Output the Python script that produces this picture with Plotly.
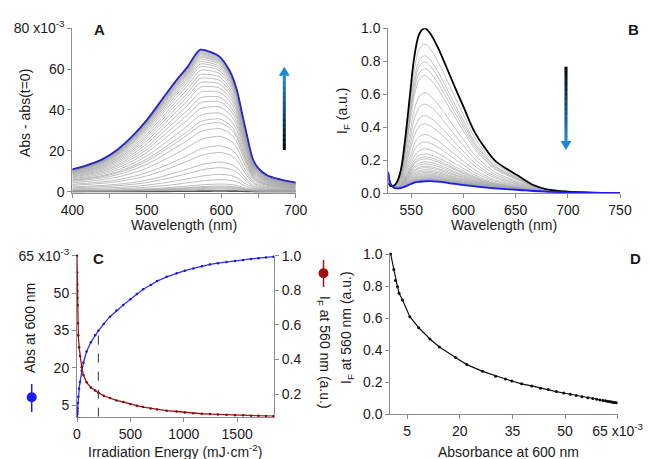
import plotly.graph_objects as go

# ---------------- data ----------------
# Panel C / D : kinetics
energy = [0, 1.3, 2, 3, 3.6, 5, 8, 12, 20, 28, 44, 60, 90, 130, 170, 200, 250, 309, 370, 433,
          500, 560, 620, 690, 750, 840, 933, 1010, 1090, 1170, 1245, 1320, 1400, 1480, 1556,
          1630, 1700, 1770, 1840]
abs600 = [0.3, 1.2, 1.67, 2.24, 2.7, 3.67, 5.76, 8.3, 11.5, 14.2, 18.8, 22, 26.5, 30.2, 33, 34.8,
          37.6, 40.5, 43, 45.2, 47.5, 49.6, 51.5, 53.2, 54.8, 56.5, 57.9, 59, 59.9, 60.8, 61.5,
          62, 62.5, 62.9, 63.3, 63.7, 64, 64.3, 64.6]
if560 = [1.0, 0.904, 0.834, 0.796, 0.755, 0.713, 0.609, 0.54, 0.47, 0.42, 0.355, 0.31, 0.268,
         0.238, 0.22, 0.208, 0.19, 0.177, 0.163, 0.154, 0.142, 0.133, 0.125, 0.117, 0.11, 0.104,
         0.099, 0.094, 0.089, 0.086, 0.084, 0.082, 0.08, 0.078, 0.077, 0.075, 0.074, 0.073, 0.072]
marker_energy = 200

# Panel A : absorption spectra
wl_A = [400, 420, 440, 460, 480, 500, 520, 540, 555, 565, 572, 580, 590, 598, 612, 621, 627,
        634, 643, 650, 661, 679, 700]
absA_final = [10.9, 13, 15.8, 20.4, 26.9, 35, 44.9, 54.6, 61.2, 66.9, 69.5, 69, 67.7, 66, 58.7,
              49.8, 40, 28.5, 15.5, 11.4, 8.2, 6.0, 4.4]
absA_early_shape = [0.16, 0.18, 0.2, 0.23, 0.28, 0.35, 0.46, 0.6, 0.72, 0.8, 0.86, 0.92, 0.97,
                    1.0, 0.95, 0.82, 0.64, 0.42, 0.2, 0.12, 0.08, 0.05, 0.04]

# Panel B : fluorescence spectra
wl_B = [528, 530, 533, 536, 540, 544, 549, 553, 558, 563, 568, 575, 582, 590, 600, 610, 620,
        630, 641, 654, 667, 680, 700, 725, 750]
ifB_start = [0.06, 0.045, 0.045, 0.065, 0.14, 0.32, 0.61, 0.83, 0.97, 1.0, 0.97, 0.89, 0.79, 0.67,
             0.525, 0.38, 0.28, 0.2, 0.15, 0.10, 0.05, 0.024, 0.01, 0.004, 0.0]
ifB_end = [0.13, 0.06, 0.035, 0.03, 0.032, 0.04, 0.055, 0.065, 0.07, 0.073, 0.074, 0.071, 0.066,
           0.058, 0.05, 0.043, 0.036, 0.03, 0.025, 0.02, 0.014, 0.01, 0.006, 0.003, 0.001]

# ---------------- helpers ----------------
W, H = 649, 459
def px(x):
    return x / W
def py(y):
    return 1 - y / H

FONT = "Liberation Sans, Arial, sans-serif"
AX = "#8c8c8c"
TXT = "#1a1a1a"

fig = go.Figure()

# ---- Panel A ----
a_end = abs600[-1]
a600 = absA_final[wl_A.index(598)]
for i, a in enumerate(abs600[:-1]):
    f = a / a_end
    ys = [f * (f * fv + (1 - f) * ev * a600) for fv, ev in zip(absA_final, absA_early_shape)]
    col = "#555555" if i == 0 else "#a0a0a0"
    wdt = 1.6 if i == 0 else 0.7
    fig.add_trace(go.Scatter(x=wl_A, y=ys, mode="lines", line=dict(color=col, width=wdt, shape="spline"),
                             xaxis="x", yaxis="y", hoverinfo="skip"))
fig.add_trace(go.Scatter(x=wl_A, y=absA_final, mode="lines",
                         line=dict(color="#2525c8", width=1.8, shape="spline"),
                         xaxis="x", yaxis="y"))

# ---- Panel B ----
i0, i1 = if560[0], if560[-1]
for v in if560[1:-1]:
    w = (v - i1) / (i0 - i1)
    ys = [e + w * (s - e) for s, e in zip(ifB_start, ifB_end)]
    fig.add_trace(go.Scatter(x=wl_B, y=ys, mode="lines", line=dict(color="#a8a8a8", width=0.7, shape="spline"),
                             xaxis="x2", yaxis="y2", hoverinfo="skip"))
fig.add_trace(go.Scatter(x=wl_B, y=ifB_start, mode="lines", line=dict(color="#000000", width=1.8, shape="spline"),
                         xaxis="x2", yaxis="y2"))
fig.add_trace(go.Scatter(x=wl_B, y=ifB_end, mode="lines", line=dict(color="#1a1aff", width=1.8, shape="spline"),
                         xaxis="x2", yaxis="y2"))

# ---- Panel C ----
k = energy.index(marker_energy)
fig.add_trace(go.Scatter(x=[energy[k], energy[k]], y=[0.3, abs600[k]], mode="lines",
                         line=dict(color="#333333", width=1, dash="dash"), xaxis="x3", yaxis="y3"))
fig.add_trace(go.Scatter(x=energy, y=abs600, mode="lines+markers",
                         line=dict(color="#3030ff", width=1.3),
                         marker=dict(size=2.5, color="#1a1acc"), cliponaxis=False,
                         xaxis="x3", yaxis="y3"))
fig.add_trace(go.Scatter(x=energy, y=if560, mode="lines+markers",
                         line=dict(color="#a01818", width=1.3),
                         marker=dict(size=2.5, color="#7a0c0c"), cliponaxis=False,
                         xaxis="x3", yaxis="y4"))

# ---- Panel D ----
fig.add_trace(go.Scatter(x=abs600, y=if560, mode="lines+markers",
                         line=dict(color="#111111", width=1.2),
                         marker=dict(size=3, color="#111111"), cliponaxis=False,
                         xaxis="x4", yaxis="y5"))

def axis(**kw):
    base = dict(showline=True, linecolor=AX, linewidth=1, ticks="outside", ticklen=4,
                tickcolor=AX, tickwidth=1, showgrid=False, zeroline=False, automargin=False,
                tickfont=dict(family=FONT, size=14, color=TXT), fixedrange=True)
    base.update(kw)
    return base

fig.update_layout(
    template="none",
    width=W, height=H, autosize=False, showlegend=False,
    margin=dict(l=0, r=0, t=0, b=0, pad=0),
    paper_bgcolor="white", plot_bgcolor="white",
    xaxis=axis(domain=[px(72.3), px(295.7)], range=[400, 700], anchor="y",
               tickvals=[400, 500, 600, 700],
               minor=dict(tickvals=[450, 550, 650], ticks="outside", ticklen=4, tickcolor=AX)),
    yaxis=axis(domain=[py(192.7), py(28.2)], range=[-0.5, 80], anchor="x",
               tickvals=[0, 20, 40, 60, 80],
               ticktext=["0", "20", "40", "60", "80 x10<sup>-3</sup>"]),
    xaxis2=axis(domain=[px(388.3), px(620)], range=[528, 750], anchor="y2",
                tickvals=[550, 600, 650, 700, 750]),
    yaxis2=axis(domain=[py(193.3), py(28.3)], range=[0, 1.0], anchor="x2",
                tickvals=[0, 0.2, 0.4, 0.6, 0.8, 1.0],
                ticktext=["0.0", "0.2", "0.4", "0.6", "0.8", "1.0"]),
    xaxis3=axis(domain=[px(77), px(274)], range=[0, 1845], anchor="y3",
                tickvals=[0, 500, 1000, 1500]),
    yaxis3=axis(domain=[py(416.7), py(255.7)], range=[0.3, 65], anchor="x3",
                tickvals=[5, 20, 35, 50, 65],
                ticktext=["5", "20", "35", "50", "65 x10<sup>-3</sup>"]),
    yaxis4=axis(overlaying="y3", side="right", range=[0.069, 1.0], anchor="x3",
                tickvals=[0.2, 0.4, 0.6, 0.8, 1.0],
                ticktext=["0.2", "0.4", "0.6", "0.8", "1.0"]),
    xaxis4=axis(domain=[px(390.3), px(617.7)], range=[0.2, 65], anchor="y5",
                tickvals=[5, 20, 35, 50, 65],
                ticktext=["5", "20", "35", "50", "65 x10<sup>-3</sup>"]),
    yaxis5=axis(domain=[py(414.3), py(254)], range=[0, 1.0], anchor="x4",
                tickvals=[0, 0.2, 0.4, 0.6, 0.8, 1.0],
                ticktext=["0.0", "0.2", "0.4", "0.6", "0.8", "1.0"]),
)

ann = []
def add_text(text, x, y, size=14, angle=0, bold=False):
    ann.append(dict(text=f"<b>{text}</b>" if bold else text, x=px(x), y=py(y), xref="paper", yref="paper",
                    showarrow=False, xanchor="center", yanchor="middle", textangle=angle,
                    font=dict(family=FONT, size=size, color=TXT)))

add_text("A", 99, 30, 15, bold=True)
add_text("B", 633, 30, 15, bold=True)
add_text("C", 98, 258, 15, bold=True)
add_text("D", 635, 258, 15, bold=True)
add_text("Wavelength (nm)", 184, 225)
add_text("Wavelength (nm)", 504, 225)
add_text("Abs - abs(t=0)", 25, 113, angle=-90)
add_text("I<sub>F</sub> (a.u.)", 343, 111, angle=-90)
add_text("Irradiation Energy (mJ·cm<sup>-2</sup>)", 175, 451)
add_text("Abs at 600 nm", 30, 328, angle=-90)
add_text("I<sub>F</sub> at 560 nm (a.u.)", 324, 352, angle=90)
add_text("I<sub>F</sub> at 560 nm (a.u.)", 347, 328, angle=-90)
add_text("Absorbance at 600 nm", 508, 452)
fig.update_layout(annotations=ann)

shapes = []
# legend glyphs for panel C
def glyph(cx, y0, y1, cy, color):
    shapes.append(dict(type="line", xref="paper", yref="paper", x0=px(cx), x1=px(cx), y0=py(y0), y1=py(y1),
                       line=dict(color=color, width=1.5)))
    r = 5
    shapes.append(dict(type="circle", xref="paper", yref="paper", x0=px(cx - r), x1=px(cx + r),
                       y0=py(cy + r), y1=py(cy - r), fillcolor=color, line=dict(color=color, width=0)))
glyph(31.7, 384, 412, 397.3, "#1a1aff")
glyph(323.5, 260, 287, 273.3, "#a01010")

# gradient arrows
def lerp(c0, c1, t):
    return "rgb(%d,%d,%d)" % tuple(round(a + (b - a) * t) for a, b in zip(c0, c1))
BLACK = (0, 0, 0)
BLUE = (30, 135, 210)
def arrow(x, y_tail, y_tip, head_len=9, head_w=5.5):
    n = 30
    direction = 1 if y_tip > y_tail else -1
    y_base = y_tip - direction * head_len
    for j in range(n):
        t0, t1 = j / n, (j + 1) / n
        ya = y_tail + (y_base - y_tail) * t0
        yb = y_tail + (y_base - y_tail) * t1 + direction * 0.3
        shapes.append(dict(type="line", xref="paper", yref="paper", x0=px(x), x1=px(x), y0=py(ya), y1=py(yb),
                           line=dict(color=lerp(BLACK, BLUE, (t0 + t1) / 2), width=3)))
    path = "M %f %f L %f %f L %f %f Z" % (px(x - head_w), py(y_base), px(x + head_w), py(y_base), px(x), py(y_tip))
    shapes.append(dict(type="path", xref="paper", yref="paper", path=path,
                       fillcolor=lerp(BLACK, BLUE, 1), line=dict(width=0)))
arrow(284.3, 150, 66.7)
arrow(566, 66.7, 150)
fig.update_layout(shapes=shapes)

fig.write_html("out.html",
               config={"displayModeBar": False, "staticPlot": True},
               post_script="document.body.style.margin='0px';"
                           "document.documentElement.style.overflow='hidden';")
